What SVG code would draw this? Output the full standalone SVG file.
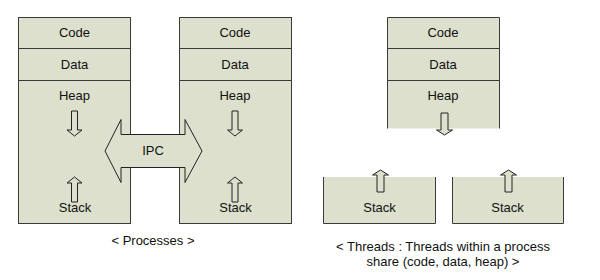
<svg xmlns="http://www.w3.org/2000/svg" width="600" height="280" viewBox="0 0 600 280">
<style>
.box{fill:#dde0cd;stroke:#3a3a3a;stroke-width:1}
.ln{fill:none;stroke:#3a3a3a;stroke-width:1}
.ar{fill:#dde0cd;stroke:#222;stroke-width:1}
text{font-family:"Liberation Sans",Arial,sans-serif;font-size:13px;fill:#111;text-anchor:middle}
</style>
<defs>
<path id="dn" d="M-3,0 H3 V19 H7.5 L0,25 L-7.5,19 H-3 Z"/>
<path id="up" d="M-3,0 H3 V-19 H7.5 L0,-25 L-7.5,-19 H-3 Z"/>
<path id="dn2" d="M-3.5,0 H3.5 V17 H8 L0,22 L-8,17 H-3.5 Z"/>
<path id="up2" d="M-3.5,0 H3.5 V-17 H8 L0,-22 L-8,-17 H-3.5 Z"/>
</defs>
<rect width="600" height="280" fill="#fff"/>
<g id="process1">
<rect class="box" x="18.5" y="17.5" width="112" height="206"/>
<path class="ln" d="M18.5,48.5 H130.5 M18.5,80.5 H130.5"/>
<text x="74.5" y="36.5">Code</text>
<text x="74.5" y="68.5">Data</text>
<text x="74.5" y="100">Heap</text>
<use href="#dn" class="ar" x="74.5" y="111"/>
<use href="#up" class="ar" x="74.5" y="202"/>
<text x="75" y="212">Stack</text>
</g>
<g id="process2">
<rect class="box" x="179.5" y="17.5" width="112" height="206"/>
<path class="ln" d="M179.5,48.5 H291.5 M179.5,80.5 H291.5"/>
<text x="235" y="36.5">Code</text>
<text x="235" y="68.5">Data</text>
<text x="235" y="100">Heap</text>
<use href="#dn" class="ar" x="235" y="111"/>
<use href="#up" class="ar" x="235" y="202"/>
<text x="235.5" y="212">Stack</text>
</g>
<g id="connectors">
<path class="ar" d="M105,151 L121,119.5 V134.5 H185 V119.5 L202,151 L185,182.5 V167.5 H121 V182.5 Z"/>
<text x="153" y="155">IPC</text>
</g>
<g id="processes-label">
<text x="153" y="245">&lt; Processes &gt;</text>
</g>
<g id="thread-shared">
<rect x="387.5" y="17.5" width="112" height="111" fill="#dde0cd"/>
<path class="ln" d="M387.5,128.5 V17.5 H499.5 V128.5 M387.5,48.5 H499.5 M387.5,80.5 H499.5"/>
<text x="443" y="36.5">Code</text>
<text x="443" y="68.5">Data</text>
<text x="443" y="100">Heap</text>
<use href="#dn2" class="ar" x="444.5" y="113"/>
</g>
<g id="thread-stack1">
<rect x="323.5" y="177" width="112" height="46.5" fill="#dde0cd"/>
<path class="ln" d="M323.5,177 V223.5 H435.5 V177"/>
<use href="#up2" class="ar" x="380.5" y="192"/>
<text x="379.5" y="212">Stack</text>
</g>
<g id="thread-stack2">
<rect x="452.5" y="177" width="111" height="46.5" fill="#dde0cd"/>
<path class="ln" d="M452.5,177 V223.5 H563.5 V177"/>
<use href="#up2" class="ar" x="508.5" y="192"/>
<text x="507.5" y="212">Stack</text>
</g>
<g id="threads-label">
<text x="443" y="251">&lt; Threads : Threads within a process</text>
<text x="443" y="266">share (code, data, heap) &gt;</text>
</g>
</svg>
